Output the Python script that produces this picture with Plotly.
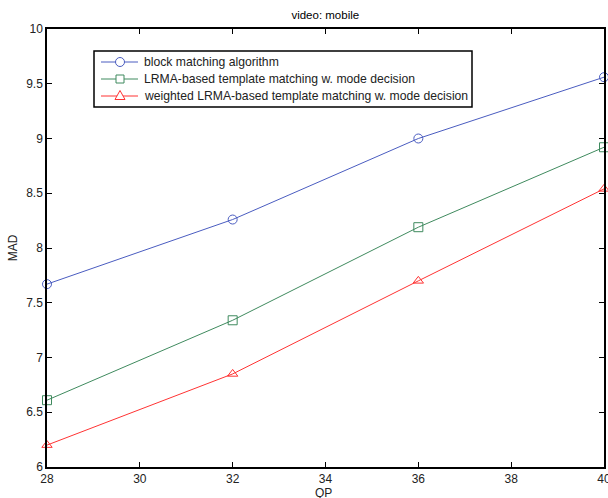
import plotly.graph_objects as go

qp = [28, 32, 36, 40]
block_matching = [7.67, 8.26, 9.00, 9.56]
lrma_template = [6.61, 7.34, 8.19, 8.92]
weighted_lrma = [6.20, 6.85, 7.70, 8.54]

names = [
    "block matching algorithm",
    "LRMA-based template matching w. mode decision",
    "weighted LRMA-based template matching w. mode decision",
]
colors = ["#4a5cc0", "#3f8a5e", "#ff3333"]
symbols = ["circle-open", "square-open", "triangle-up-open"]

W, H = 608, 498
ML, MR, MT, MB = 47, 4, 29, 31
PW, PH = W - ML - MR, H - MT - MB


def px(x):
    return (x - ML) / PW


def py(y):
    return (H - MB - y) / PH


fig = go.Figure()
for ys, n, c, s in zip([block_matching, lrma_template, weighted_lrma], names, colors, symbols):
    fig.add_trace(go.Scatter(
        x=qp, y=ys, name=n, mode="lines+markers", showlegend=False, cliponaxis=False,
        line=dict(color=c, width=1),
        marker=dict(symbol=s, size=9, color=c, line=dict(color=c, width=1)),
    ))

font = "Liberation Sans, Arial, sans-serif"

# custom legend (box, sample lines, markers, labels)
shapes = [dict(type="rect", xref="paper", yref="paper",
               x0=px(94), x1=px(472), y0=py(107), y1=py(51),
               line=dict(color="black", width=1.5), fillcolor="white", layer="above")]
annotations = []
rows = [62, 79, 96]
for i, (n, c) in enumerate(zip(names, colors)):
    yy = rows[i]
    shapes.append(dict(type="line", xref="paper", yref="paper", x0=px(101), x1=px(138),
                       y0=py(yy), y1=py(yy), line=dict(color=c, width=1), layer="above"))
    if i == 0:
        shapes.append(dict(type="circle", xref="paper", yref="paper",
                           x0=px(115.5), x1=px(124.5), y0=py(yy + 4.5), y1=py(yy - 4.5),
                           line=dict(color=c, width=1), fillcolor="white", layer="above"))
    elif i == 1:
        shapes.append(dict(type="rect", xref="paper", yref="paper",
                           x0=px(116), x1=px(124), y0=py(yy + 4), y1=py(yy - 4),
                           line=dict(color=c, width=1), fillcolor="white", layer="above"))
    else:
        path = "M {:.5f},{:.5f} L {:.5f},{:.5f} L {:.5f},{:.5f} Z".format(
            px(115), py(yy + 3.5), px(125), py(yy + 3.5), px(120), py(yy - 5.5))
        shapes.append(dict(type="path", xref="paper", yref="paper", path=path,
                           line=dict(color=c, width=1), fillcolor="white", layer="above"))
    annotations.append(dict(xref="paper", yref="paper", x=px(142), y=py(yy),
                            xanchor="left", yanchor="middle", showarrow=False, text=n,
                            font=dict(family=font, size=12.2, color="#222")))

# x-axis title placed as annotation (like the reference, sitting at the lower edge)
annotations.append(dict(xref="paper", yref="paper", x=px(323), y=py(493),
                        xanchor="center", yanchor="middle", showarrow=False, text="QP",
                        font=dict(family=font, size=12, color="#222")))

axis_common = dict(
    showgrid=False, zeroline=False, showline=True, linecolor="black", linewidth=1.5,
    mirror="ticks", ticks="inside", ticklen=5, tickcolor="black", automargin=False,
    ticklabeloverflow="allow",
    tickfont=dict(family=font, size=12, color="#222"),
)
fig.update_layout(
    width=W, height=H,
    margin=dict(l=ML, r=MR, t=MT, b=MB),
    paper_bgcolor="white", plot_bgcolor="white",
    title=dict(text="video: mobile", x=0.535, xanchor="center", y=0.97, yanchor="middle",
               font=dict(family=font, size=11.5, color="black")),
    xaxis=dict(range=[28, 40], tickvals=[28, 30, 32, 34, 36, 38, 40], **axis_common),
    yaxis=dict(range=[6, 10], tickvals=[6, 6.5, 7, 7.5, 8, 8.5, 9, 9.5, 10],
               ticktext=["6", "6.5", "7", "7.5", "8", "8.5", "9", "9.5", "10"],
               title=dict(text="MAD", standoff=6, font=dict(family=font, size=12, color="#222")),
               **axis_common),
    shapes=shapes,
    annotations=annotations,
    showlegend=False,
)
fig.write_html("out.html", config={"displayModeBar": False},
               post_script="document.body.style.margin='0';document.body.style.overflow='hidden';")
